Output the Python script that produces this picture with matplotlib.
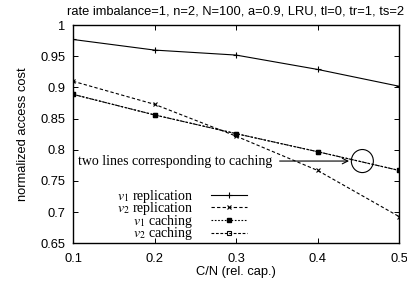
import matplotlib
matplotlib.use("Agg")
import matplotlib.pyplot as plt
from matplotlib.patches import Ellipse

plt.rcParams['font.family'] = ['Liberation Sans', 'DejaVu Sans']
plt.rcParams['mathtext.fontset'] = 'stix'

cap = [0.1, 0.2, 0.3, 0.4, 0.5]
v1_repl = [0.977, 0.960, 0.952, 0.929, 0.902]
v2_repl = [0.910, 0.873, 0.822, 0.767, 0.693]
v1_cach = [0.889, 0.856, 0.826, 0.797, 0.767]
v2_cach = [0.889, 0.856, 0.826, 0.797, 0.767]
labels = [r'$v_1$ replication', r'$v_2$ replication', r'$v_1$ caching', r'$v_2$ caching']

fig = plt.figure(figsize=(4.07, 2.89), dpi=100)
ax = fig.add_axes([0.1794, 0.158, 0.801, 0.755])

lw = 0.8
ax.plot(cap, v1_repl, color='black', lw=lw, ls='-', marker='+', ms=4, mew=0.8, label=labels[0])
ax.plot(cap, v2_repl, color='black', lw=lw, ls=(0, (3, 2)), marker='x', ms=3, mew=0.8, label=labels[1])
ax.plot(cap, v1_cach, color='black', lw=lw, ls=(0, (1.5, 1.5)), marker='s', ms=3.5, label=labels[2])
ax.plot(cap, v2_cach, color='black', lw=lw, ls=(0, (2.5, 1.5)), marker='s', ms=3.5, mfc='none', mew=0.8,
        label=labels[3])

ax.set_xlim(0.1, 0.5)
ax.set_ylim(0.65, 1.0)
ax.set_xticks(cap)
ax.set_xticklabels(['0.1', '0.2', '0.3', '0.4', '0.5'])
ax.set_yticks([0.65, 0.7, 0.75, 0.8, 0.85, 0.9, 0.95, 1.0])
ax.set_yticklabels(['0.65', '0.7', '0.75', '0.8', '0.85', '0.9', '0.95', '1'])
ax.tick_params(direction='in', top=True, right=True, labelsize=9.3, length=3.5, width=0.7)
ax.tick_params(axis='x', pad=7)
ax.tick_params(axis='y', pad=5.5)
for s in ax.spines.values():
    s.set_linewidth(1.0)

ax.set_xlabel('C/N (rel. cap.)', fontsize=9.3, labelpad=1)
ax.set_ylabel('normalized access cost', fontsize=9.3, labelpad=8)
ax.set_title('rate imbalance=1, n=2, N=100, a=0.9, LRU, tl=0, tr=1, ts=2', fontsize=9.3, pad=8)

# annotation for the overlapping caching lines
ax.annotate('two lines corresponding to caching', xy=(0.4387, 0.782), xytext=(0.345, 0.782),
            fontsize=10, family='Liberation Serif', ha='right', va='center',
            arrowprops=dict(arrowstyle='->', color='black', lw=0.8, shrinkA=3, shrinkB=0))
ax.add_patch(Ellipse((0.455, 0.782), 0.027, 0.037, fill=False, color='black', lw=0.8))

leg = ax.legend(loc='upper right', bbox_to_anchor=(0.534, 0.255), markerfirst=False, frameon=False,
                prop={'family': 'Liberation Serif', 'size': 10}, handlelength=2.63,
                labelspacing=-0.32, handletextpad=1.24, borderpad=0, borderaxespad=0)
for t in leg.get_texts():
    t.set_ha('right')
leg._legend_box.align = 'right'

fig.savefig('out.png', dpi=100)
